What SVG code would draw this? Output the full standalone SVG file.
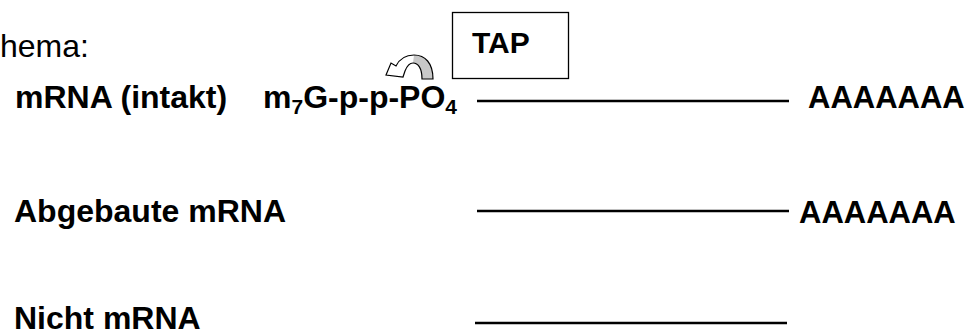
<svg xmlns="http://www.w3.org/2000/svg" width="978" height="333" viewBox="0 0 978 333">
<style>
  text { font-family: "Liberation Sans", Arial, sans-serif; fill: #000; }
  .b { font-weight: bold; font-size: 32px; }
  .r { font-size: 32px; }
  .sub { font-size: 21px; }
  .strand { stroke: #000; stroke-width: 2.4; fill: none; }
  .box { fill: #fff; stroke: #000; stroke-width: 1.3; }
</style>
<rect width="978" height="333" fill="#fff"/>
<g id="title"><text class="r" x="0" y="57">hema:</text></g>
<g id="tap">
  <rect class="box" x="452.5" y="12.5" width="116" height="66"/>
  <text class="b" x="472" y="53" style="font-size:30px">TAP</text>
</g>
<g id="curved-arrow">
  <path d="M433,79 C433,63 425,55 414,55 C405,55 399,60 396,66 L391,63 L386,75 L403,77 L405,71 C407,66 410,63 413,63 C418,63 422,68 422,79 Z" fill="#fff"/>
  <path d="M414,55 C425,55 433,63 433,79 L422,79 C422,68 418,63 413,63 Z" fill="#c8c8c8"/>
  <path d="M433,79 C433,63 425,55 414,55 C405,55 399,60 396,66 L391,63 L386,75 L403,77 L405,71 C407,66 410,63 413,63 C418,63 422,68 422,79 Z" fill="none" stroke="#000" stroke-width="1.2"/>
</g>
<g id="row-intakt">
  <text class="b" x="15" y="108">mRNA (intakt)</text>
  <text class="b" x="263" y="108">m<tspan class="sub" dy="6">7</tspan><tspan dy="-6">G-p-p-PO</tspan><tspan class="sub" dy="6">4</tspan></text>
  <text class="b" x="808" y="108" style="font-size:31px">AAAAAAA</text>
</g>
<g id="row-abgebaut">
  <text class="b" x="14" y="222">Abgebaute mRNA</text>
  <text class="b" x="799" y="223" style="font-size:31px">AAAAAAA</text>
</g>
<g id="row-nicht">
  <text class="b" x="14" y="329">Nicht mRNA</text>
</g>
<g id="connectors">
  <line class="strand" x1="477" y1="101" x2="789" y2="101"/>
  <line class="strand" x1="477" y1="211" x2="789" y2="211"/>
  <line class="strand" x1="475" y1="323" x2="787" y2="323"/>
</g>
</svg>
